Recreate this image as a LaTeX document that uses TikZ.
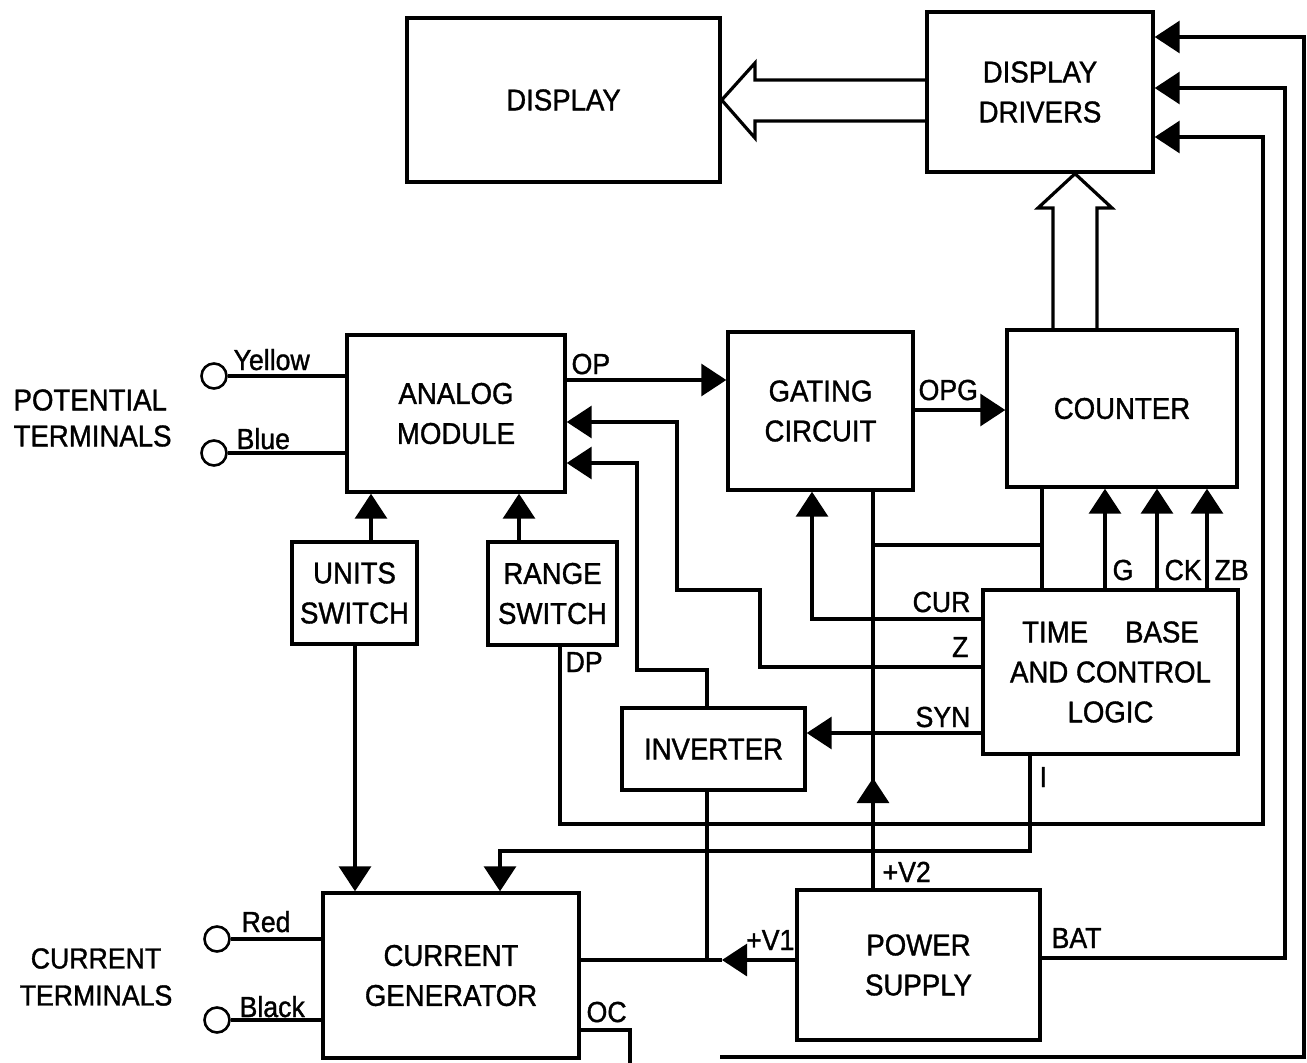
\documentclass[tikz,border=0pt]{standalone}
\usepackage{fontspec}
\setmainfont{Liberation Sans}[FakeStretch=0.92,FakeBold=1.2]
\usetikzlibrary{arrows.meta}
\begin{document}
\begin{tikzpicture}[x=1pt,y=-1pt,line width=3.2pt,
  every node/.style={font=\fontsize{30}{40}\selectfont},
  box/.style={draw,line width=3.4pt,inner sep=0pt,align=center},
  arr/.style={-{Triangle[length=25pt,width=32pt]}},
  lbl/.style={inner sep=0pt,font=\fontsize{29}{32}\selectfont},
  term/.style={circle,draw,line width=2.6pt,minimum size=25pt,inner sep=0pt}]
\useasboundingbox (0,0) rectangle (1307,1063);

% blocks
\node[box,minimum width=313pt,minimum height=164pt] (disp) at (563.5,100) {DISPLAY};
\node[box,minimum width=226pt,minimum height=160pt] (drv) at (1040,92) {DISPLAY\\DRIVERS};
\node[box,minimum width=218pt,minimum height=157pt] (ana) at (456,413.5) {ANALOG\\MODULE};
\node[box,minimum width=185pt,minimum height=158pt] (gate) at (820.5,411) {GATING\\CIRCUIT};
\node[box,minimum width=230pt,minimum height=157pt] (cnt) at (1122,408.5) {COUNTER};
\node[box,minimum width=255pt,minimum height=164pt] (tb) at (1110.5,672) {TIME\hspace{37pt}BASE\\AND CONTROL\\LOGIC};
\node[box,minimum width=125pt,minimum height=102pt] (units) at (354.5,593) {UNITS\\SWITCH};
\node[box,minimum width=129pt,minimum height=103pt] (range) at (552.5,593.5) {RANGE\\SWITCH};
\node[box,minimum width=183pt,minimum height=82pt] (inv) at (713.5,749) {INVERTER};
\node[box,minimum width=243pt,minimum height=150pt] (ps) at (918.5,965) {POWER\\SUPPLY};
\node[box,minimum width=256pt,minimum height=165pt] (cg) at (451,975.5) {CURRENT\\GENERATOR};

% terminals
\node[term] (ty) at (214,376) {};
\node[term] (tbl) at (214,453) {};
\node[term] (tr) at (217,939) {};
\node[term] (tk) at (217,1020) {};
\node[align=left,anchor=west,font=\fontsize{30}{36}\selectfont,inner sep=0pt] (pt) at (12,418) {POTENTIAL\\TERMINALS};
\node[align=center,font=\fontsize{29}{37}\selectfont,inner sep=0pt] (ct) at (96,977) {CURRENT\\TERMINALS};
\draw (ty) -- (ana.west |- ty);
\draw (tbl) -- (ana.west |- tbl);
\draw (tr) -- (cg.west |- tr);
\draw (tk) -- (cg.west |- tk);
\node[lbl,anchor=base west] (lyel) at (232,370) {Yellow};
\node[lbl,anchor=base west] (lblu) at (235,449) {Blue};
\node[lbl,anchor=base west] (lred) at (240,932) {Red};
\node[lbl,anchor=base west] (lblk) at (238,1017) {Black};

% hollow bus arrows
\draw (drv.west |- 0,80) -- (755,80) -- (755,63) -- (disp.east) -- (755,138) -- (755,121) -- (drv.west |- 0,121);
\draw (cnt.north -| 1053,0) -- (1053,208) -- (1038,208) -- (drv.south -| 1075,0) -- (1112,208) -- (1097,208) -- (cnt.north -| 1097,0);

% signal connectors
\draw[arr] (ana.east |- 0,380) -- (gate.west |- 0,380);
\draw[arr] (gate.east |- 0,410) -- (cnt.west |- 0,410);
\draw[arr] (tb.west |- 0,667) -- (760,667) -- (760,590) -- (677,590) -- (677,422) -- (ana.east |- 0,422);
\draw[arr] (inv.north -| 707,0) -- (707,670) -- (637,670) -- (637,463) -- (ana.east |- 0,463);
\draw[arr] (tb.west |- 0,619) -- (812,619) -- (gate.south -| 812,0);
\draw[arr] (tb.west |- 0,733) -- (inv.east |- 0,733);
\draw (ps.north -| 873,0) -- (gate.south -| 873,0);
\draw[arr] (ps.north -| 873,0) -- (873,778);
\coordinate (j1) at (873,545);
\draw (j1) -- (1042,545);
\draw (cnt.south -| 1042,0) -- (tb.north -| 1042,0);
\draw[arr] (tb.north -| 1105,0) -- (cnt.south -| 1105,0);
\draw[arr] (tb.north -| 1157,0) -- (cnt.south -| 1157,0);
\draw[arr] (tb.north -| 1207,0) -- (cnt.south -| 1207,0);
\draw[arr] (units.north -| 371,0) -- (ana.south -| 371,0);
\draw[arr] (range.north -| 519,0) -- (ana.south -| 519,0);
\draw[arr] (units.south -| 355,0) -- (cg.north -| 355,0);
\draw[arr] (range.south -| 560,0) -- (560,824) -- (1263,824) -- (1263,137) -- (drv.east |- 0,137);
\draw[arr] (tb.south -| 1030,0) -- (1030,851) -- (500,851) -- (cg.north -| 500,0);
\draw[arr] (ps.east |- 0,958) -- (1285,958) -- (1285,88) -- (drv.east |- 0,88);
\coordinate (bl) at (720,1057);
\draw[arr] (bl) -- (1304,1057) -- (1304,37) -- (drv.east |- 0,37);
\coordinate (jv1) at (707,960);
\draw[arr] (ps.west |- 0,960) -- (722,960);
\draw (722,960) -- (cg.east |- jv1);
\draw (inv.south -| jv1) -- (jv1);
\coordinate (oce) at (630,1063);
\draw (cg.east |- 0,1030) -- (630,1030) -- (oce);

% labels
\node[lbl,anchor=base west] (lop) at (570,374) {OP};
\node[lbl,anchor=base west] (lopg) at (917,400) {OPG};
\node[lbl,anchor=base east] (lcur) at (972,612) {CUR};
\node[lbl,anchor=base east] (lz) at (970,657) {Z};
\node[lbl,anchor=base east] (lsyn) at (972,727) {SYN};
\node[lbl,anchor=base west] (lg) at (1111,580) {G};
\node[lbl,anchor=base west] (lck) at (1163,580) {CK};
\node[lbl,anchor=base west] (lzb) at (1213,580) {ZB};
\node[lbl,anchor=base west] (li) at (1038,787) {I};
\node[lbl,anchor=base west] (ldp) at (564,672) {DP};
\node[lbl,anchor=base west] (lv2) at (881,882) {+V2};
\node[lbl,anchor=base east] (lv1) at (796,950) {+V1};
\node[lbl,anchor=base west] (lbat) at (1050,948) {BAT};
\node[lbl,anchor=base west] (loc) at (585,1022) {OC};
\end{tikzpicture}
\end{document}
